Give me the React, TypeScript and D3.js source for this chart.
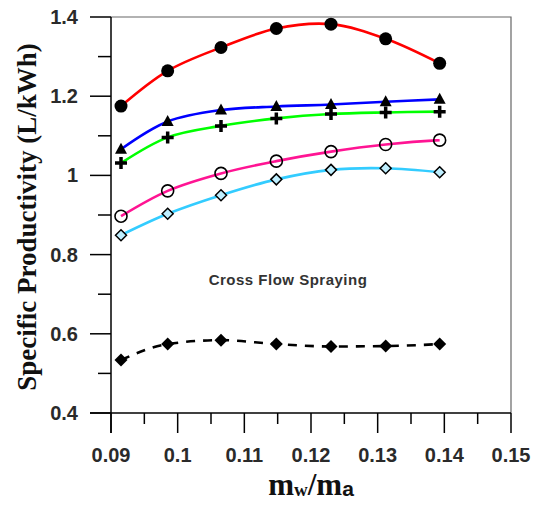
import React from "react";
import * as d3 from "d3";

const width = 539;
const height = 506;
const margin = { top: 17, right: 28, bottom: 93, left: 111 };

// mass ratio mw/ma on the x axis
const ratios = [0.0915, 0.0985, 0.1065, 0.1148, 0.123, 0.1312, 0.1393];

// specific productivity (L/kWh) per series
const redSeries = [1.175, 1.264, 1.323, 1.371, 1.382, 1.345, 1.283];
const blueSeries = [1.066, 1.136, 1.165, 1.174, 1.179, 1.186, 1.192];
const greenSeries = [1.031, 1.096, 1.125, 1.144, 1.155, 1.159, 1.161];
const pinkSeries = [0.897, 0.961, 1.005, 1.036, 1.06, 1.078, 1.089];
const cyanSeries = [0.849, 0.903, 0.95, 0.99, 1.014, 1.018, 1.008];
const dashedSeries = [0.534, 0.574, 0.584, 0.574, 0.568, 0.569, 0.574];

const xTicks = [0.09, 0.1, 0.11, 0.12, 0.13, 0.14, 0.15];
const xTickLabels = ["0.09", "0.1", "0.11", "0.12", "0.13", "0.14", "0.15"];
const yTicks = [0.4, 0.6, 0.8, 1, 1.2, 1.4];
const yTickLabels = ["0.4", "0.6", "0.8", "1", "1.2", "1.4"];

const annotation = "Cross Flow Spraying";
const yTitle = "Specific Productivity (L/kWh)";

const innerW = width - margin.left - margin.right;
const innerH = height - margin.top - margin.bottom;

const x = d3.scaleLinear().domain([0.09, 0.15]).range([margin.left, margin.left + innerW]);
const y = d3.scaleLinear().domain([0.4, 1.4]).range([margin.top + innerH, margin.top]);

const smooth = d3
  .line<number>()
  .x((_, i) => x(ratios[i]))
  .y((d) => y(d))
  .curve(d3.curveCatmullRom.alpha(0.5));

const sans = "'Liberation Sans', Arial, sans-serif";
const serif = "'Liberation Serif', 'Times New Roman', serif";

const Marker = ({ kind, cx, cy }: { kind: string; cx: number; cy: number }) => {
  if (kind === "dot") return <circle cx={cx} cy={cy} r={6.5} fill="#000" />;
  if (kind === "ring")
    return <circle cx={cx} cy={cy} r={6} fill="none" stroke="#000" strokeWidth={1.6} />;
  if (kind === "tri")
    return <path d={`M${cx},${cy - 6.5}L${cx + 6},${cy + 4.5}L${cx - 6},${cy + 4.5}Z`} fill="#000" />;
  if (kind === "plus")
    return (
      <path
        d={`M${cx - 6},${cy}H${cx + 6}M${cx},${cy - 6}V${cy + 6}`}
        stroke="#000"
        strokeWidth={3.5}
      />
    );
  if (kind === "diamondOpen")
    return (
      <path
        d={`M${cx},${cy - 5.5}L${cx + 5.5},${cy}L${cx},${cy + 5.5}L${cx - 5.5},${cy}Z`}
        fill="#bfefff"
        stroke="#000"
        strokeWidth={1.5}
      />
    );
  return (
    <path
      d={`M${cx},${cy - 6.5}L${cx + 6.5},${cy}L${cx},${cy + 6.5}L${cx - 6.5},${cy}Z`}
      fill="#000"
    />
  );
};

const series = [
  { values: dashedSeries, color: "#000", dash: "9,8", marker: "diamond", curve: d3.curveMonotoneX },
  { values: cyanSeries, color: "#33ccff", dash: null, marker: "diamondOpen", curve: null },
  { values: pinkSeries, color: "#ff1493", dash: null, marker: "ring", curve: null },
  { values: greenSeries, color: "#00ff00", dash: null, marker: "plus", curve: null },
  { values: blueSeries, color: "#0000ff", dash: null, marker: "tri", curve: null },
  { values: redSeries, color: "#ff0000", dash: null, marker: "dot", curve: null },
];

const App = () => {
  const x0 = margin.left;
  const x1 = margin.left + innerW;
  const y0 = margin.top + innerH;
  const y1 = margin.top;
  const minorX = d3.range(0.095, 0.15, 0.01);
  const minorY = d3.range(0.5, 1.4, 0.2);

  return (
    <svg width={width} height={height} style={{ position: "absolute", left: 0, top: 0 }}>
      <rect width={width} height={height} fill="#fff" />
      {/* frame */}
      <path d={`M${x0},${y1}H${x1}V${y0}`} fill="none" stroke="#666" strokeWidth={1.2} />

      {series.map((s, k) => {
        const gen = s.curve ? smooth.curve(s.curve) : smooth.curve(d3.curveCatmullRom.alpha(0.5));
        return (
          <g key={k}>
            <path
              d={gen(s.values) || ""}
              fill="none"
              stroke={s.color}
              strokeWidth={2.6}
              strokeDasharray={s.dash || undefined}
            />
            {s.values.map((v, i) => (
              <Marker key={i} kind={s.marker} cx={x(ratios[i])} cy={y(v)} />
            ))}
          </g>
        );
      })}

      {/* axes */}
      <line x1={x0} x2={x0} y1={y1} y2={y0 + 20} stroke="#000" strokeWidth={1.5} />
      <line x1={x0 - 21} x2={x1} y1={y0} y2={y0} stroke="#000" strokeWidth={1.5} />
      {xTicks.map((t, i) => (
        <g key={i}>
          <line x1={x(t)} x2={x(t)} y1={y0} y2={y0 + 20} stroke="#000" strokeWidth={1.5} />
          <text
            x={x(t)}
            y={y0 + 49}
            textAnchor="middle"
            fontFamily={sans}
            fontWeight="bold"
            fontSize={20}
            fill="#2a2a2a"
          >
            {xTickLabels[i]}
          </text>
        </g>
      ))}
      {minorX.map((t, i) => (
        <line key={i} x1={x(t)} x2={x(t)} y1={y0} y2={y0 + 11} stroke="#000" strokeWidth={1.5} />
      ))}
      {yTicks.map((t, i) => (
        <g key={i}>
          <line x1={x0 - 21} x2={x0} y1={y(t)} y2={y(t)} stroke="#000" strokeWidth={1.5} />
          <text
            x={x0 - 33}
            y={y(t)}
            dy="0.35em"
            textAnchor="end"
            fontFamily={sans}
            fontWeight="bold"
            fontSize={20}
            fill="#2a2a2a"
          >
            {yTickLabels[i]}
          </text>
        </g>
      ))}
      {minorY.map((t, i) => (
        <line key={i} x1={x0 - 13} x2={x0} y1={y(t)} y2={y(t)} stroke="#000" strokeWidth={1.5} />
      ))}

      <text
        x={288}
        y={285}
        textAnchor="middle"
        fontFamily={sans}
        fontWeight="bold"
        fontSize={15}
        letterSpacing={0.5}
        fill="#333"
      >
        {annotation}
      </text>

      <text
        transform={`translate(36,${(y0 + y1) / 2 + 2}) rotate(-90)`}
        textAnchor="middle"
        fontFamily={serif}
        fontWeight="bold"
        fontSize={27}
        fill="#111"
      >
        {yTitle}
      </text>

      <text x={(x0 + x1) / 2} y={495} textAnchor="middle" fontWeight="bold" fill="#111">
        <tspan fontFamily={serif} fontSize={31}>m</tspan>
        <tspan fontFamily={serif} fontSize={19} dy={1}>w</tspan>
        <tspan fontFamily={serif} fontSize={31} dy={-1}>/m</tspan>
        <tspan fontFamily={sans} fontSize={21} dy={1}>a</tspan>
      </text>
    </svg>
  );
};

export default App;
